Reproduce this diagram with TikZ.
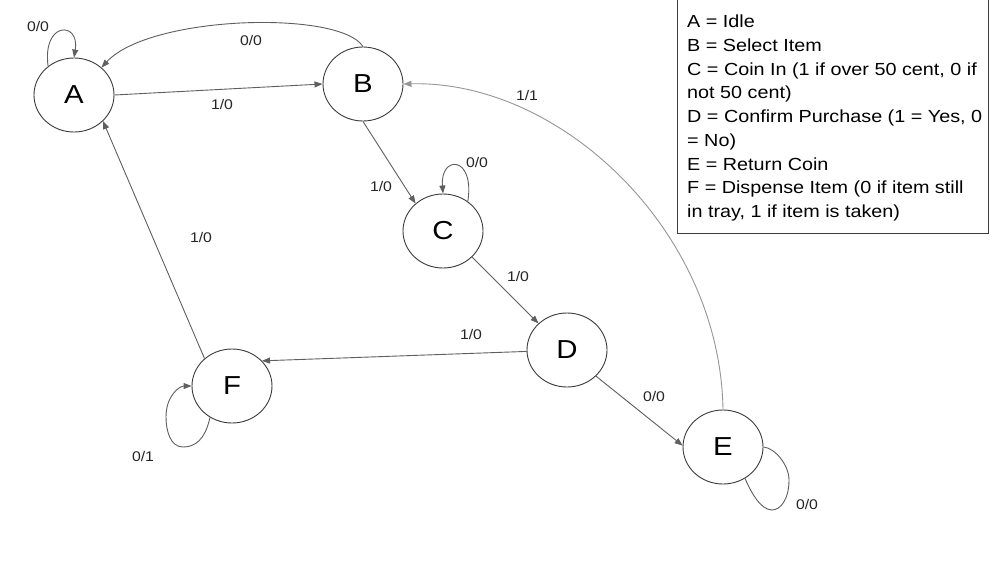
\documentclass[tikz,border=0pt]{standalone}
\usepackage{fontspec}
\setmainfont[FakeStretch=1.13]{Liberation Sans}
\usetikzlibrary{arrows.meta,shapes.geometric}
\definecolor{edgecol}{RGB}{95,95,95}
\definecolor{nodecol}{RGB}{60,60,60}
\definecolor{lightedge}{RGB}{150,150,150}
\tikzset{
  state/.style={ellipse,draw=nodecol,line width=0.9pt,minimum width=80pt,minimum height=74pt,inner sep=0pt,font=\fontsize{26}{26}\selectfont},
  edge/.style={draw=edgecol,line width=0.9pt,-{Triangle[length=8pt,width=6pt]}},
  plain/.style={draw=edgecol,line width=0.9pt},
  lbl/.style={font=\fontsize{14}{14}\selectfont,text=black!85,inner sep=0pt}
}
\begin{document}
\begin{tikzpicture}[x=1pt,y=-1pt]
\useasboundingbox (0,0) rectangle (990,565);
\fill[white] (0,0) rectangle (990,565);
% states
\node[state] (A) at (74,95) {A};
\node[state] (B) at (363,84) {B};
\node[state] (C) at (443,231) {C};
\node[state] (D) at (567,350) {D};
\node[state] (F) at (232,386) {F};
\node[state] (E) at (723,447) {E};
% edges
\draw[edge] (A.132) .. controls (42,21) and (80,21) .. (A.north);
\draw[edge] (B.north) .. controls (340,10) and (150,15) .. (A.45);
\draw[edge] (A.east) -- (B.west);
\draw[edge,draw=lightedge] (E.north) .. controls (720,230) and (560,80) .. (B.east);
\draw[edge] (B.south) -- (C.135);
\draw[edge] (C.50) .. controls (475,155) and (440,155) .. (C.north);
\draw[edge] (C.-42) -- (D.137);
\draw[edge] (D.182) -- (F.40);
\draw[edge] (F.135) -- (A.-42);
\draw[edge] (F.235) .. controls (205,440) and (195,447) .. (183,447) .. controls (170,447) and (166,430) .. (166,417) .. controls (166,395) and (180,386) .. (F.west);
\draw[edge] (D.-42) -- (E.178);
\draw[plain] (E.east) .. controls (775,448) and (789,465) .. (789,480) .. controls (789,500) and (780,510) .. (772,510) .. controls (760,510) and (750,490) .. (E.-55);
% labels
\node[lbl] (l1) at (38,26) {0/0};
\node[lbl] (l2) at (251,40) {0/0};
\node[lbl] (l3) at (222,104) {1/0};
\node[lbl] (l4) at (527,95) {1/1};
\node[lbl] (l5) at (381,186) {1/0};
\node[lbl] (l6) at (477,162) {0/0};
\node[lbl] (l7) at (518,276) {1/0};
\node[lbl] (l8) at (471,334) {1/0};
\node[lbl] (l9) at (201,237) {1/0};
\node[lbl] (l10) at (143,456) {0/1};
\node[lbl] (l11) at (654,396) {0/0};
\node[lbl] (l12) at (807,504) {0/0};
% legend
\draw[nodecol,line width=0.9pt] (677,-2) rectangle (988,233);
\node[anchor=north west,align=left,inner sep=0pt,font=\fontsize{17.5}{23.7}\selectfont] (leg) at (687,15)
{A = Idle\\
B = Select Item\\
C = Coin In (1 if over 50 cent, 0 if\\
not 50 cent)\\
D = Confirm Purchase (1 = Yes, 0\\
= No)\\
E = Return Coin\\
F = Dispense Item (0 if item still\\
in tray, 1 if item is taken)};
\end{tikzpicture}
\end{document}
